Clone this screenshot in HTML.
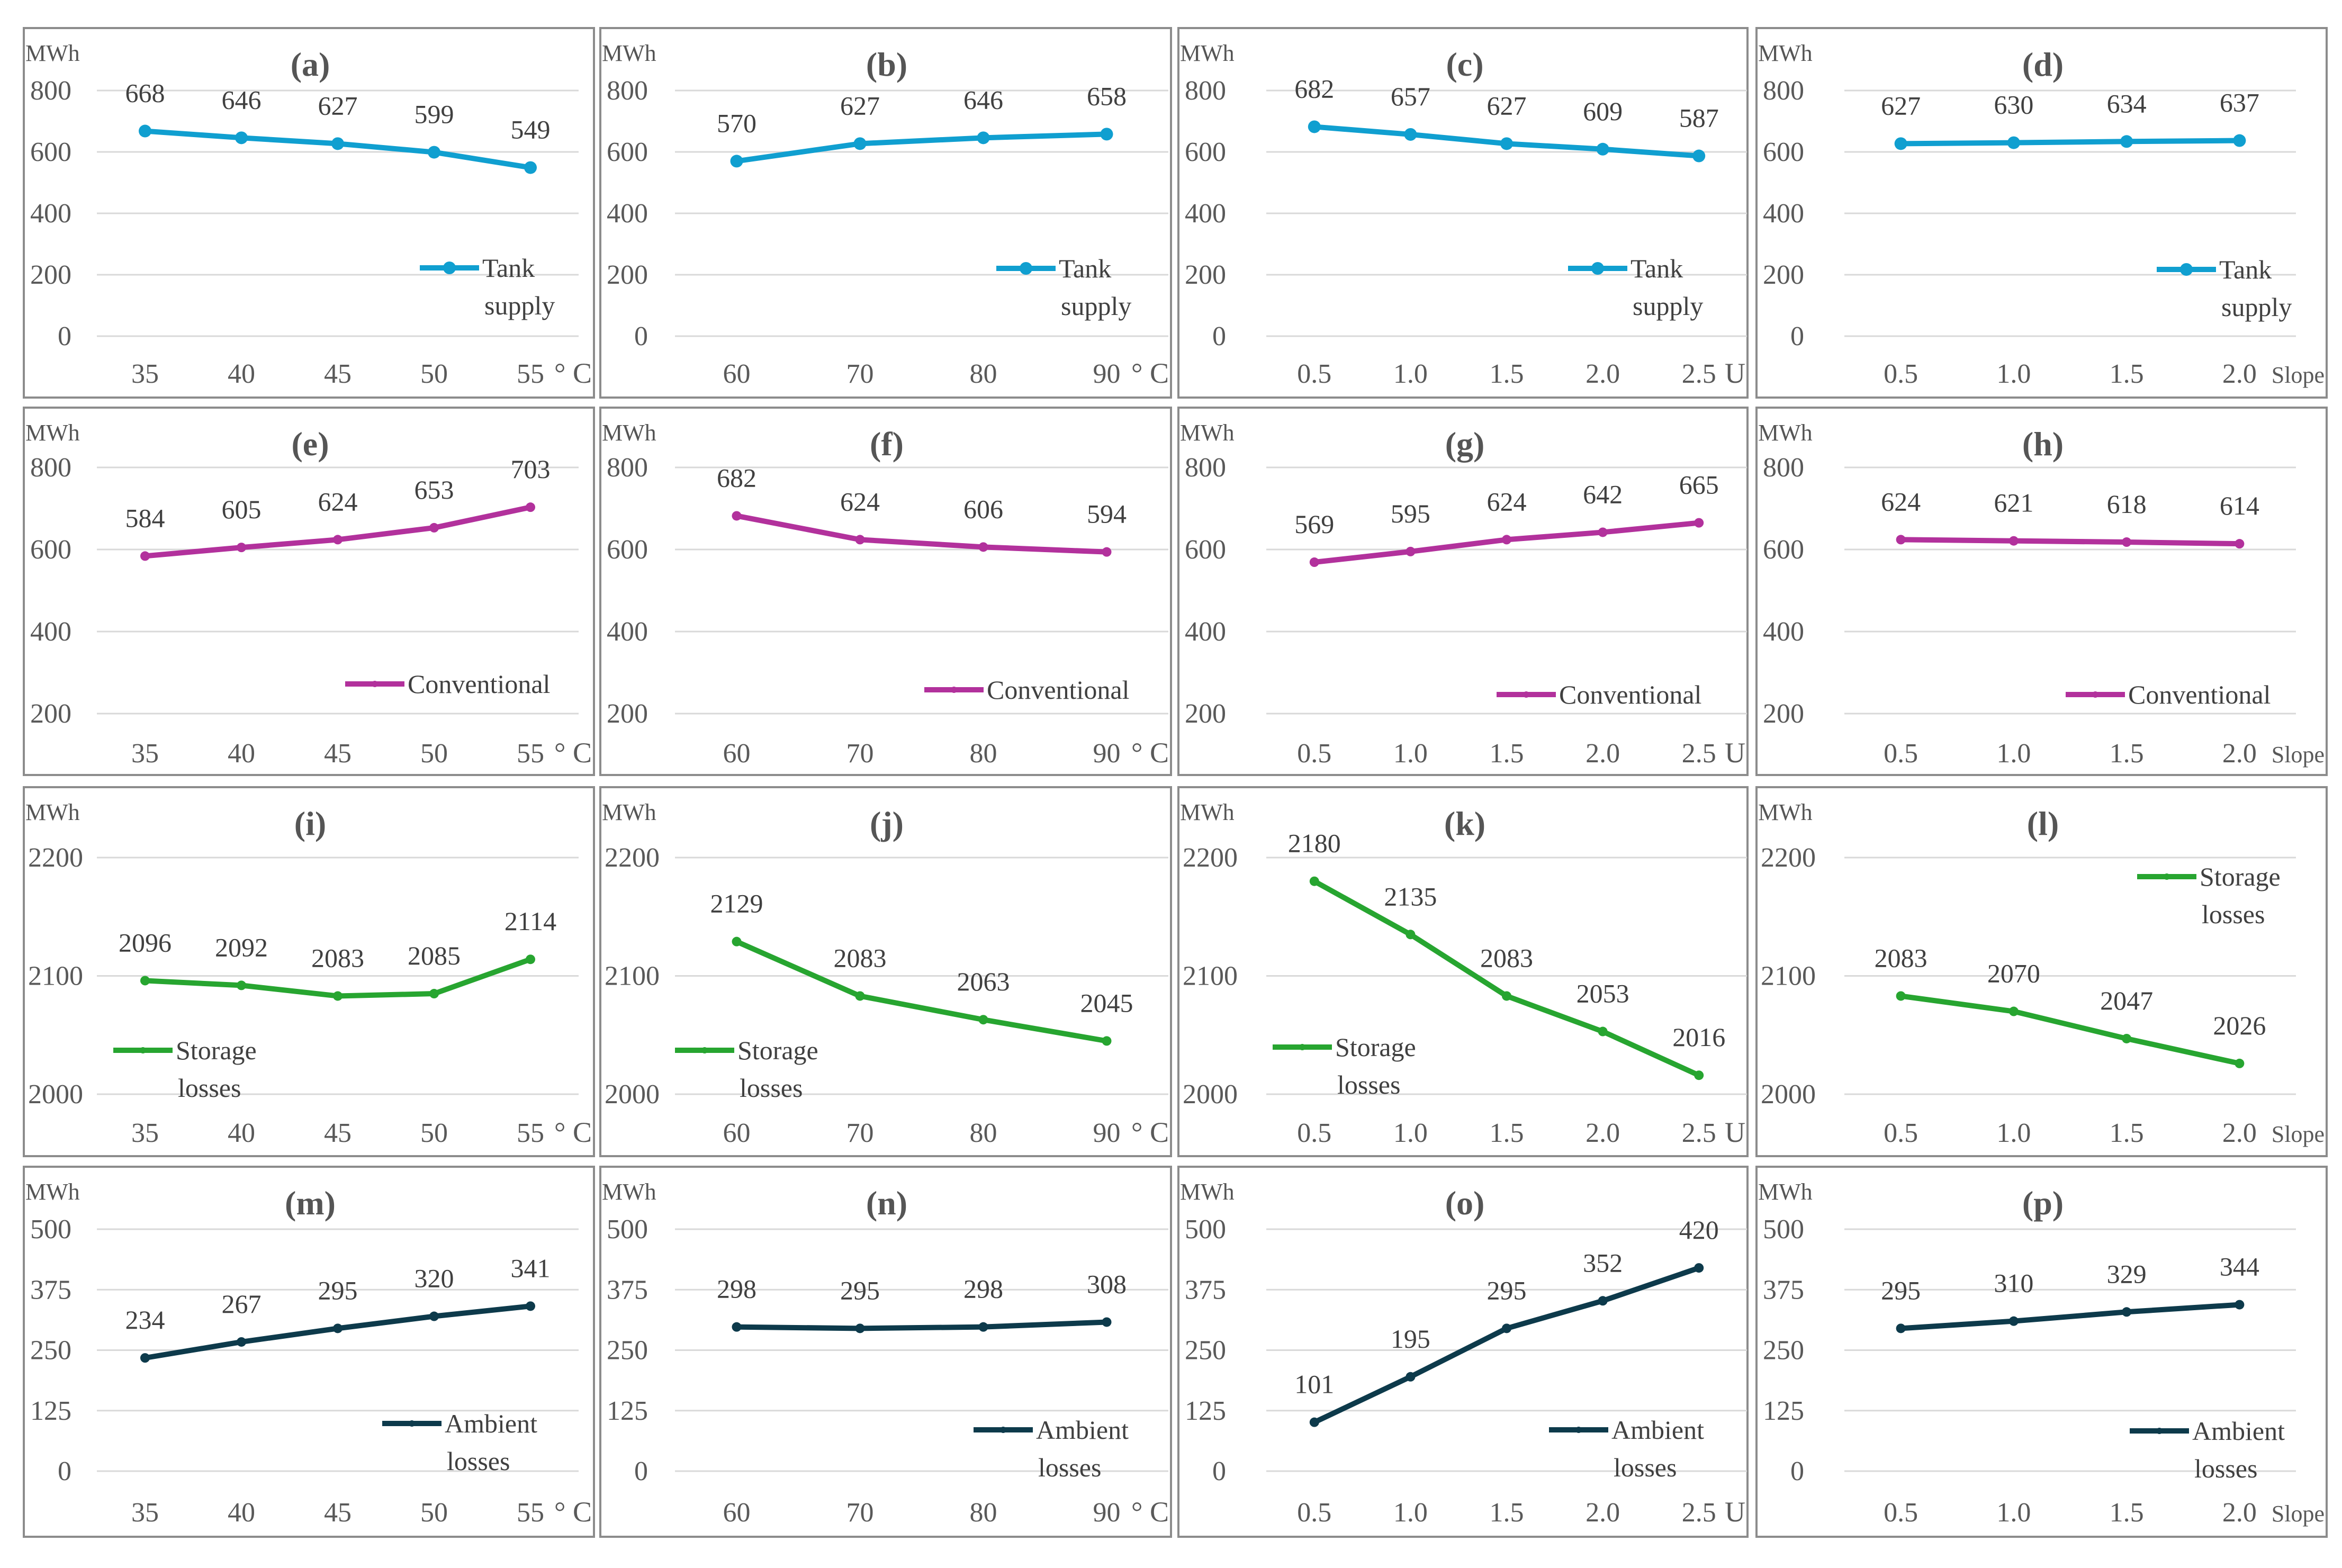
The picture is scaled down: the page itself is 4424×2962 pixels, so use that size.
<!DOCTYPE html>
<html><head><meta charset="utf-8"><style>
html,body{margin:0;padding:0;background:#fff}
svg{display:block}
text{font-family:"Liberation Serif",serif}
</style></head><body>
<svg id="chart" width="4424" height="2962" viewBox="0 0 4424 2962" xmlns="http://www.w3.org/2000/svg"></svg>
<script>
// ---- data ----
const panelIds = ['a','b','c','d','e','f','g','h','i','j','k','l','m','n','o','p'];
const catsTemp1 = ['35','40','45','50','55'];
const catsTemp2 = ['60','70','80','90'];
const catsU = ['0.5','1.0','1.5','2.0','2.5'];
const catsSlope = ['0.5','1.0','1.5','2.0'];
const unitLabels = ['°C','°C','U','Slope'];
const seriesNames = ['Tank supply','Conventional','Storage losses','Ambient losses'];
const ticksRow1 = [0,200,400,600,800];
const ticksRow2 = [200,400,600,800];
const ticksRow3 = [2000,2100,2200];
const ticksRow4 = [0,125,250,375,500];
const valsA = [668,646,627,599,549];
const valsB = [570,627,646,658];
const valsC = [682,657,627,609,587];
const valsD = [627,630,634,637];
const valsE = [584,605,624,653,703];
const valsF = [682,624,606,594];
const valsG = [569,595,624,642,665];
const valsH = [624,621,618,614];
const valsI = [2096,2092,2083,2085,2114];
const valsJ = [2129,2083,2063,2045];
const valsK = [2180,2135,2083,2053,2016];
const valsL = [2083,2070,2047,2026];
const valsM = [234,267,295,320,341];
const valsN = [298,295,298,308];
const valsO = [101,195,295,352,420];
const valsP = [295,310,329,344];

// ---- layout ----
const colX = [[45,1122],[1134,2212],[2226,3301],[3318,4395]];
const rowY = [[53,751],[770,1464],[1487,2184],[2204,2903]];
const plotX = [[138,1048],[141,1073],[166,1074],[166,1019]];
const rowGrid = [[582,118],[578,113],[580,133],[575,118]];
const tickRight = [90,90,112,90];
const colors = ['#109fd0','#b2319c','#27a530','#0d3a4b'];
const catsByCol = [catsTemp1,catsTemp2,catsU,catsSlope];
const ticksByRow = [ticksRow1,ticksRow2,ticksRow3,ticksRow4];
const valsAll = [valsA,valsB,valsC,valsD,valsE,valsF,valsG,valsH,valsI,valsJ,valsK,valsL,valsM,valsN,valsO,valsP];
const legendPos = [
 [748,453],[748,454],[736,454],[756,456],
 [607,522],[612,533],[601,542],[584,542],
 [169,497],[141,497],[178,491],[719,169],
 [677,485],[705,497],[700,497],[705,499]];

const NS='http://www.w3.org/2000/svg';
const svg=document.getElementById('chart');
function mk(tag,attrs,parent){const e=document.createElementNS(NS,tag);for(const k in attrs)e.setAttribute(k,attrs[k]);(parent||svg).appendChild(e);return e;}

for(let r=0;r<4;r++){for(let c=0;c<4;c++){
  const idx=r*4+c, id=panelIds[idx];
  const ox=colX[c][0], oy=rowY[r][0], w=colX[c][1]-ox, h=rowY[r][1]-oy;
  const g=mk('g',{transform:`translate(${ox},${oy})`});
  
  
  const border=mk('rect',{x:0,y:0,width:w,height:h,fill:'#fff',stroke:'#8c8c8c','stroke-width':4},g);
  
  
  const mwh=mk('text',{x:3,y:62,'font-size':44,fill:'#555'},g); mwh.textContent='MWh';
  
  
  const px0=plotX[c][0], px1=plotX[c][1];
  const title=mk('text',{x:541,y:90,'font-size':64,'font-weight':'bold',fill:'#555','text-anchor':'middle'},g);
  title.textContent='('+id+')';
  
  
  const ticks=ticksByRow[r], tmin=ticks[0], tmax=ticks[ticks.length-1];
  const [gy0,gy1]=rowGrid[r];
  const yS=v=>gy0+(v-tmin)/(tmax-tmin)*(gy1-gy0);
  ticks.forEach(t=>{
    const gl=mk('line',{x1:px0,x2:px1,y1:yS(t),y2:yS(t),stroke:'#d9d9d9','stroke-width':3},g);
    
    
    const tl=mk('text',{x:tickRight[r],y:yS(t)+17,'font-size':52,fill:'#595959','text-anchor':'end'},g);
    tl.textContent=String(t);
    
    
  });
  const cats=catsByCol[c], band=(px1-px0)/cats.length;
  const xS=i=>px0+band*(i+0.5);
  cats.forEach((cat,i)=>{
    const xl=mk('text',{x:xS(i),y:670,'font-size':52,fill:'#595959','text-anchor':'middle'},g);
    xl.textContent=cat;
    
    
  });
  const ul=mk('text',{x:w-4,y:670,'font-size':c===3?44:54,fill:'#595959','text-anchor':'end'},g);
  ul.textContent=c<2?'° C':unitLabels[c];
  
  
  const vals=valsAll[idx];
  const pts=vals.map((v,i)=>xS(i)+','+yS(v)).join(' ');
  const line=mk('polyline',{points:pts,fill:'none',stroke:colors[r],'stroke-width':10,'stroke-linejoin':'round'},g);
  
  
  vals.forEach((v,i)=>{
    const m=mk('circle',{cx:xS(i),cy:yS(v),r:r===0?12:9,fill:colors[r]},g);
    
    
    const dl=mk('text',{x:xS(i),y:yS(v)-55,'font-size':50,fill:'#404040','text-anchor':'middle'},g);
    dl.textContent=String(v);
    
    
  });
  const [lx,ly]=legendPos[idx];
  const lg=mk('g',{},g);
  
  
  mk('line',{x1:lx,x2:lx+112,y1:ly,y2:ly,stroke:colors[r],'stroke-width':10},lg);
  mk('circle',{cx:lx+56,cy:ly,r:r===0?12:6,fill:colors[r]},lg);
  const words=seriesNames[r].split(' ');
  if(words.length===1){
    const t=mk('text',{x:lx+118,y:ly+17,'font-size':50,fill:'#404040'},lg); t.textContent=words[0];
  } else {
    const t1=mk('text',{x:lx+118,y:ly+17,'font-size':50,fill:'#404040'},lg); t1.textContent=words[0];
    const t2=mk('text',{x:lx+122,y:ly+88,'font-size':50,fill:'#404040'},lg); t2.textContent=words[1];
  }
}}
</script>
</body></html>
